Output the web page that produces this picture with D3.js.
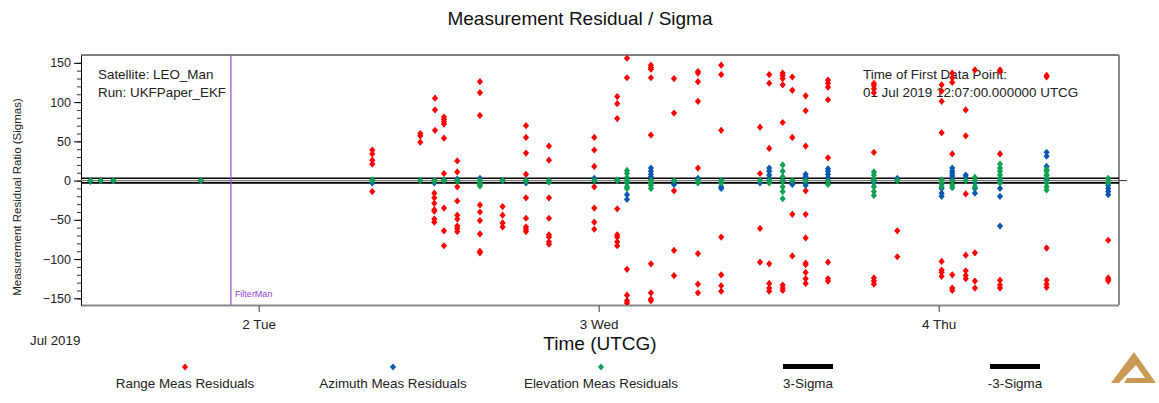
<!DOCTYPE html>
<html>
<head>
<meta charset="utf-8">
<script src="https://cdn.jsdelivr.net/npm/d3@7"></script>
<style>
  body { margin: 0; background: #fff; }
  svg { display: block; font-family: "Liberation Sans", Arial, sans-serif; }
</style>
</head>
<body>
<script>
// hours since 01 Jul 2019 00:00 UTCG, value in sigmas
const rangeResiduals = [
  [19.93, 0],
  [32.02, 39], [32.02, 34], [32.02, 26], [32.02, 21], [32.02, -14],
  [35.41, 60], [35.41, 57], [35.41, 49],
  [36.45, 105], [36.45, 90], [36.45, 64], [36.40, -16], [36.40, -22], [36.40, -29], [36.40, -37], [36.40, -39], [36.40, -49], [36.40, -53],
  [37.08, 81], [37.08, 78], [37.08, 75], [37.08, 72], [37.08, 54], [37.08, 9], [37.08, -35], [37.08, -64], [37.08, -83],
  [38.02, 25], [38.02, 11], [38.02, -8], [38.02, -26], [38.02, -44], [38.02, -49], [38.02, -58], [38.02, -61], [38.02, -65],
  [39.62, 126], [39.62, 112], [39.62, 83], [39.62, -31], [39.62, -40], [39.62, -51], [39.62, -68], [39.62, -90], [39.62, -92],
  [41.22, -33], [41.22, -44], [41.22, -54], [41.22, -59],
  [42.87, 70], [42.87, 55], [42.87, 35], [42.87, 8], [42.87, -22], [42.87, -48], [42.87, -59], [42.87, -62], [42.87, -65],
  [44.49, 44], [44.49, 26], [44.49, -22], [44.49, -48], [44.49, -69], [44.49, -72], [44.49, -78], [44.49, -81],
  [47.69, 55], [47.69, 39], [47.69, 18], [47.69, -8], [47.69, -35], [47.69, -53], [47.69, -62],
  [49.31, 107], [49.31, 98], [49.31, 79], [49.31, -36], [49.31, -69], [49.31, -72], [49.31, -78], [49.31, -83],
  [50.00, 156], [50.00, 131], [50.00, -113], [50.00, -146], [50.00, -153], [50.00, -156],
  [51.69, 147], [51.69, 144], [51.69, 142], [51.69, 131], [51.69, 58], [51.69, -106], [51.69, -143], [51.69, -151], [51.69, -153],
  [53.32, 130], [53.32, 86], [53.32, -13], [53.32, -89], [53.32, -121],
  [55.01, 139], [55.01, 137], [55.01, 126], [55.01, 101], [55.01, 16], [55.01, -93], [55.01, -132], [55.01, -143],
  [56.65, 147], [56.65, 135], [56.65, 64], [56.65, -72], [56.65, -120], [56.65, -134], [56.65, -141],
  [59.39, 68], [59.39, 9], [59.39, -61], [59.39, -104],
  [60.04, 135], [60.04, 124], [60.04, 41], [60.04, -106], [60.04, -131], [60.04, -137], [60.04, -141],
  [60.99, 137], [60.99, 134], [60.99, 130], [60.99, 122], [60.99, 74], [60.99, -133], [60.99, -137], [60.99, -140],
  [61.67, 132], [61.67, 115], [61.67, 55], [61.67, -43], [61.67, -96],
  [62.61, 108], [62.61, 89], [62.61, 44], [62.61, -13], [62.61, -43], [62.61, -73], [62.61, -105], [62.61, -107], [62.61, -117], [62.61, -125], [62.61, -131],
  [64.19, 128], [64.19, 124], [64.19, 119], [64.19, 103], [64.19, 29], [64.19, -104], [64.19, -125], [64.19, -128],
  [67.43, 124], [67.43, 121], [67.43, 117], [67.43, 112], [67.43, 36], [67.43, -124], [67.43, -128], [67.43, -132],
  [69.08, -64], [69.08, -97],
  [72.21, 122], [72.21, 114], [72.21, 101], [72.21, 61], [72.21, -103], [72.21, -114], [72.21, -117], [72.21, -122],
  [72.96, 137], [72.96, 131], [72.96, 125], [72.96, 34], [72.96, -120], [72.96, -137], [72.96, -140],
  [73.91, 90], [73.91, 57], [73.91, -17], [73.91, -95], [73.91, -115], [73.91, -121], [73.91, -125],
  [74.56, 141], [74.56, -92], [74.56, -128], [74.56, -137],
  [76.33, 141], [76.33, 139], [76.33, 34], [76.33, -127], [76.33, -133], [76.33, -137],
  [79.62, 134], [79.62, 132], [79.62, -86], [79.62, -127], [79.62, -132], [79.62, -136],
  [83.97, -76], [83.97, -124], [83.97, -126], [83.97, -128]
];

const azimuthResiduals = [
  [12.12, -1], [12.85, 0], [13.74, 0], [19.93, 0],
  [32.02, -3], [36.40, -3], [36.40, 0], [37.08, 0], [38.02, 0], [38.02, 2], [39.62, 3], [41.22, 0],
  [42.87, -3], [42.87, 0], [44.49, 0], [47.69, 3], [47.69, 0], [49.31, 0],
  [50.00, -18], [50.00, -24], [50.00, 0],
  [51.69, 16], [51.69, 12], [51.69, 8], [51.69, 5], [51.69, 1],
  [53.32, -1], [53.32, -3], [53.32, -5], [55.01, 3], [55.01, 1],
  [56.65, -3], [56.65, -8], [56.65, -10], [56.65, 0],
  [59.39, -3], [60.04, 16], [60.04, 12], [60.04, 7], [60.04, 3], [60.04, 0],
  [60.99, 0], [61.67, -5], [61.67, -2],
  [62.61, 8], [62.61, 5], [62.61, 2], [62.61, -3], [62.61, -6],
  [64.19, 15], [64.19, 12], [64.19, 8], [64.19, 4], [64.19, 0],
  [67.43, 0], [67.43, -3], [69.08, 3], [69.08, 1],
  [72.21, -4], [72.21, -10], [72.21, -16], [72.21, -20],
  [72.96, 16], [72.96, 12], [72.96, 9], [72.96, 6], [72.96, 2],
  [73.91, 7], [73.91, 4], [74.56, -3], [74.56, -10], [74.56, -16],
  [76.33, -10], [76.33, -20], [76.33, -58], [76.33, 0],
  [79.62, 36], [79.62, 31], [79.62, 18], [79.62, 7], [79.62, 1],
  [83.97, -6], [83.97, -10], [83.97, -14], [83.97, -18]
];

const elevationResiduals = [
  [12.12, 0], [12.85, 0], [13.74, 0], [19.93, 0],
  [32.02, 0], [32.02, 1], [35.41, 0], [36.40, 0], [36.40, -1], [37.08, 0], [37.08, 1],
  [38.02, 0], [38.02, -1], [39.62, 0], [39.62, -3], [39.62, -5], [39.62, -7], [41.22, 0],
  [42.87, 0], [42.87, -1], [44.49, 0], [44.49, -2], [47.69, 0], [49.31, 0], [49.31, 1],
  [50.00, 13], [50.00, 9], [50.00, 4], [50.00, 0], [50.00, -3], [50.00, -8], [50.00, -10],
  [51.69, 0], [51.69, -3], [51.69, -6], [51.69, -10], [53.32, 0], [55.01, 0], [55.01, -3],
  [56.65, 0], [56.65, -3], [59.39, 0], [60.04, 0], [60.04, -3],
  [60.99, 20], [60.99, 12], [60.99, 5], [60.99, -1], [60.99, -8], [60.99, -14], [60.99, -23],
  [61.67, 0], [62.61, 0], [64.19, -1], [64.19, -5],
  [67.43, 11], [67.43, 7], [67.43, 2], [67.43, -1], [67.43, -8], [67.43, -14], [67.43, -19],
  [69.08, 0],
  [72.21, 1], [72.21, -3], [72.21, -8], [72.96, -1], [72.96, -6], [72.96, -9], [73.91, 0],
  [74.56, 4], [74.56, 0], [74.56, -8],
  [76.33, 21], [76.33, 16], [76.33, 12], [76.33, 7], [76.33, 3], [76.33, -3],
  [79.62, 14], [79.62, 12], [79.62, 7], [79.62, 3], [79.62, -3], [79.62, -8], [79.62, -12],
  [83.97, 3], [83.97, 0], [83.97, -3]
];

const sigmaLimit = 3;
const filterManHours = 22.04;
const timeDomainHours = [11.46, 84.73];
const valueDomain = [-158.5, 160];
const yTicks = [-150, -100, -50, 0, 50, 100, 150];
const legendNames = ["Range Meas Residuals", "Azimuth Meas Residuals", "Elevation Meas Residuals", "3-Sigma", "-3-Sigma"];
const seriesColors = ["#ff0000", "#0b58b0", "#0fa052"];

const epoch = Date.UTC(2019, 6, 1);
const toDate = h => new Date(epoch + h * 3600e3);

const W = 1159, H = 403;
const margin = { top: 55, right: 40, bottom: 98, left: 81 };
const width = W - margin.left - margin.right;
const height = H - margin.top - margin.bottom;

const svg = d3.select("body").append("svg").attr("width", W).attr("height", H);

svg.append("text").attr("x", 580).attr("y", 25).attr("text-anchor", "middle")
  .attr("font-size", 19).attr("fill", "#111").text("Measurement Residual / Sigma");

const g = svg.append("g").attr("transform", `translate(${margin.left},${margin.top})`);

const x = d3.scaleUtc().domain(timeDomainHours.map(toDate)).range([0, width]);
const y = d3.scaleLinear().domain(valueDomain).range([height, 0]);

g.append("clipPath").attr("id", "clip").append("rect")
  .attr("width", width).attr("height", height);

// frame
g.append("line").attr("x1", 0).attr("x2", width).attr("y1", 0).attr("y2", 0).attr("stroke", "#000");
g.append("line").attr("x1", width).attr("x2", width).attr("y1", 0).attr("y2", height)
  .attr("stroke", "#888").attr("stroke-width", 2);
g.append("line").attr("x1", 0).attr("x2", width).attr("y1", height + 0.5).attr("y2", height + 0.5)
  .attr("stroke", "#888").attr("stroke-width", 2);

// y axis with minor ticks
g.append("g").call(d3.axisLeft(y).tickValues(d3.range(-150, 151, 10)).tickSize(4).tickFormat(""))
  .call(a => a.select(".domain").remove())
  .selectAll("line").attr("stroke", "#333");
const yAxis = g.append("g").call(d3.axisLeft(y).tickValues(yTicks).tickSize(7).tickSizeOuter(0));
yAxis.select(".domain").attr("stroke", "#000");
yAxis.selectAll("text").attr("font-size", 12.5).attr("fill", "#222")
  .attr("font-family", "Liberation Sans, Arial, sans-serif");

// x axis
const days = d3.utcDay.range(x.domain()[0], x.domain()[1]).filter(d => d > x.domain()[0]);
const xAxis = g.append("g").attr("transform", `translate(0,${height + 1})`)
  .call(d3.axisBottom(x).tickValues(days).tickSize(6).tickSizeOuter(0)
    .tickFormat(d3.utcFormat("%-d %a")));
xAxis.select(".domain").remove();
xAxis.selectAll("line").attr("stroke", "#333");
xAxis.selectAll("text").attr("font-size", 13.5).attr("fill", "#222").attr("dy", "1em")
  .attr("font-family", "Liberation Sans, Arial, sans-serif");

svg.append("text").attr("x", 30).attr("y", 345).attr("font-size", 13.3).attr("fill", "#222").text("Jul 2019");
svg.append("text").attr("x", 600).attr("y", 350).attr("text-anchor", "middle")
  .attr("font-size", 19).attr("fill", "#111").text("Time (UTCG)");
svg.append("text").attr("transform", "translate(21,197) rotate(-90)").attr("text-anchor", "middle")
  .attr("font-size", 11.5).attr("fill", "#222").text("Measurement Residual Ratio (Sigmas)");

// annotations
const note = (tx, ty, s) => g.append("text").attr("x", tx).attr("y", ty)
  .attr("font-size", 13.4).attr("fill", "#222").text(s);
note(17, 24, "Satellite: LEO_Man");
note(17, 42, "Run: UKFPaper_EKF");
note(782, 24, "Time of First Data Point:");
note(782, 42, "01 Jul 2019 12:07:00.000000 UTCG");

const plot = g.append("g").attr("clip-path", "url(#clip)");

// sigma lines
plot.append("line").attr("x1", 0).attr("x2", width).attr("y1", y(0)).attr("y2", y(0))
  .attr("stroke", "#777").attr("stroke-width", 1.2);
g.append("line").attr("x1", width).attr("x2", width + 8).attr("y1", y(0)).attr("y2", y(0))
  .attr("stroke", "#333").attr("stroke-width", 1);
[sigmaLimit, -sigmaLimit].forEach(s => {
  plot.append("line").attr("x1", 0).attr("x2", width).attr("y1", y(s)).attr("y2", y(s))
    .attr("stroke", "#000").attr("stroke-width", 1.7);
});

// filter maneuver marker
plot.append("line").attr("x1", x(toDate(filterManHours))).attr("x2", x(toDate(filterManHours)))
  .attr("y1", 0).attr("y2", height).attr("stroke", "#9a5ad8").attr("stroke-width", 1.3);
g.append("text").attr("x", x(toDate(filterManHours)) + 4).attr("y", height - 8)
  .attr("font-size", 9).attr("fill", "#8a3fd0").text("FilterMan");

const diamond = "M0,-3.6L3.1,0L0,3.6L-3.1,0Z";

[rangeResiduals, azimuthResiduals, elevationResiduals].forEach((series, i) => {
  plot.append("g").selectAll("path").data(series).join("path")
    .attr("d", diamond)
    .attr("transform", d => `translate(${x(toDate(d[0]))},${y(d[1])})`)
    .attr("fill", seriesColors[i]);
});

// legend
const legendX = [185, 393, 601, 808, 1015];
const legend = svg.append("g");
legendNames.forEach((name, i) => {
  if (i < 3) {
    legend.append("path").attr("d", diamond).attr("fill", seriesColors[i])
      .attr("transform", `translate(${legendX[i]},367)`);
  } else {
    legend.append("rect").attr("x", legendX[i] - 25).attr("y", 364).attr("width", 50).attr("height", 5)
      .attr("fill", "#000");
  }
  legend.append("text").attr("x", legendX[i]).attr("y", 388).attr("text-anchor", "middle")
    .attr("font-size", 13.4).attr("fill", "#222").text(name);
});

// logo
svg.append("path").attr("transform", "translate(1108,352)")
  .attr("fill", "#c99a55").attr("fill-rule", "evenodd")
  .attr("d", "M3,31L26,0L48,31Z M11,31L16,31L19,26L37,26L28,13Z");
</script>
</body>
</html>
